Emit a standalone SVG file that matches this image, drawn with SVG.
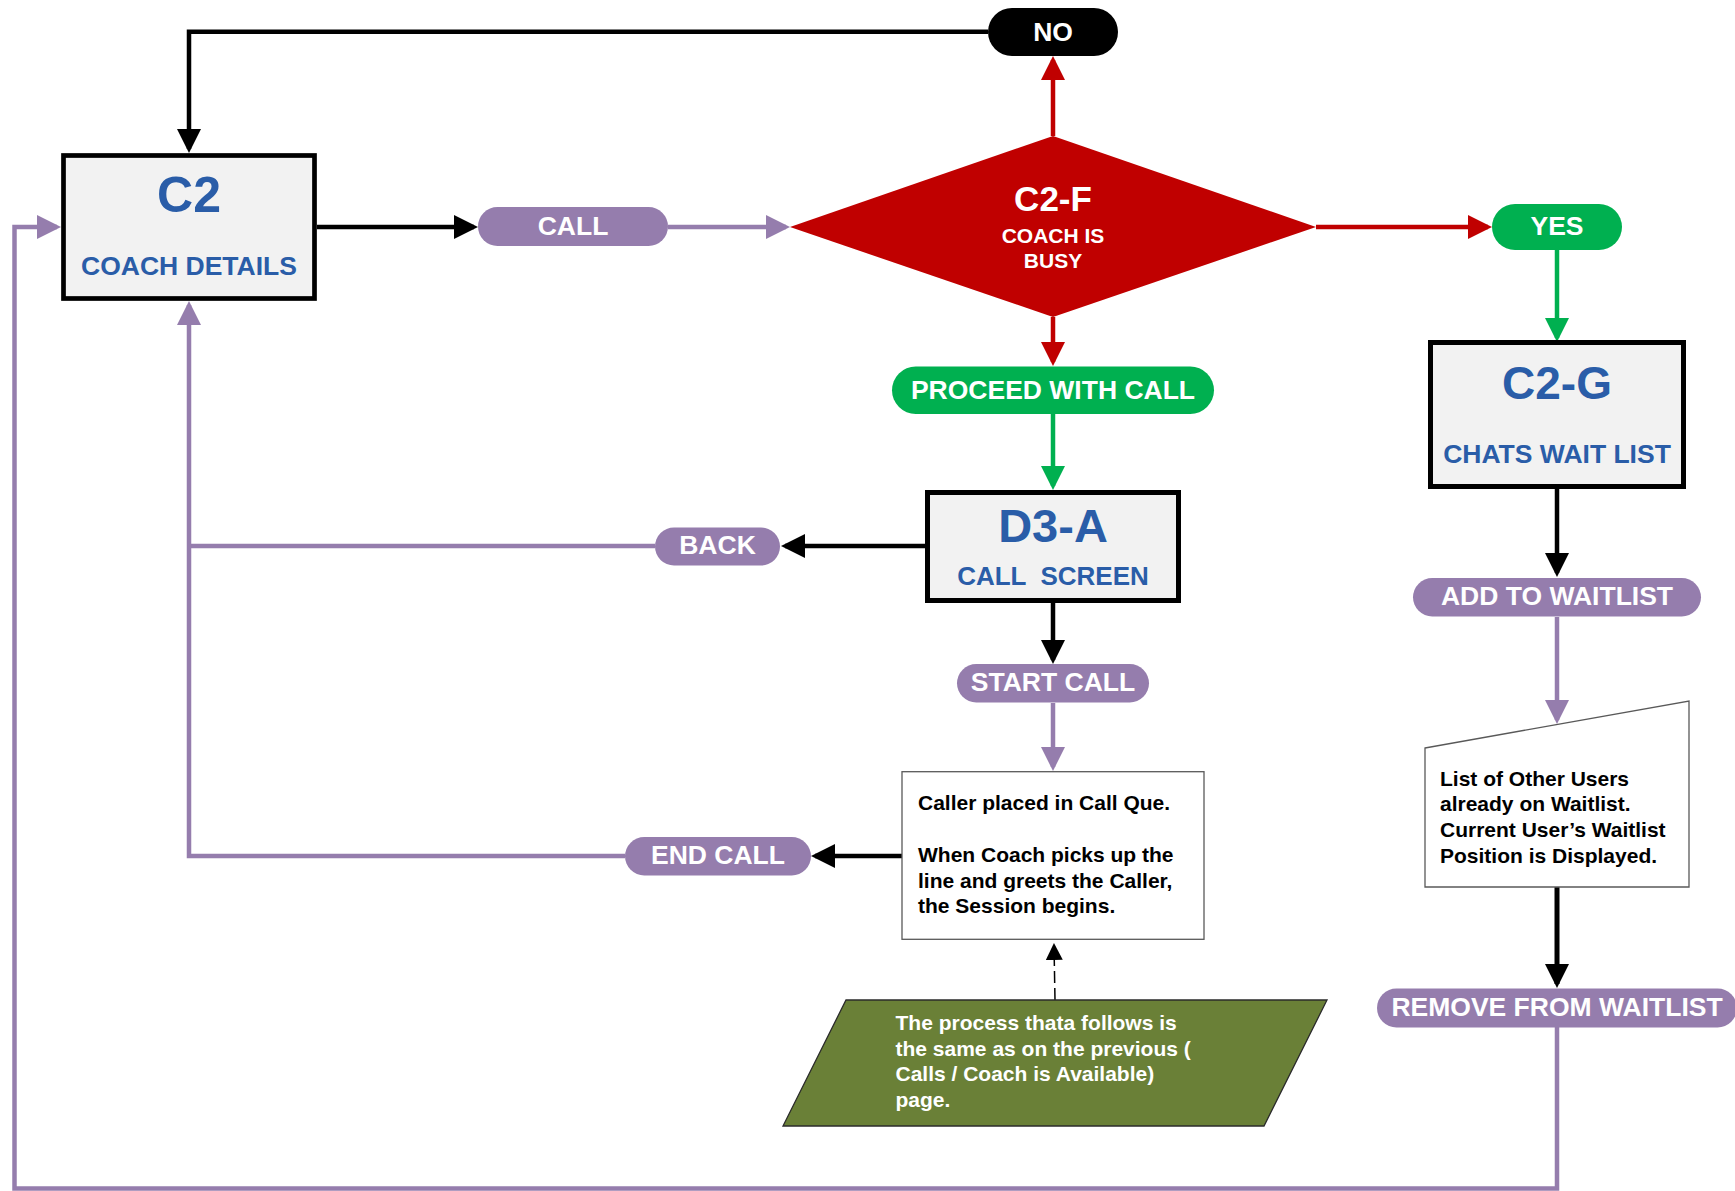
<svg xmlns="http://www.w3.org/2000/svg" width="1735" height="1191" viewBox="0 0 1735 1191">
<style>
text{font-family:"Liberation Sans",Arial,sans-serif;font-weight:bold}
.box{fill:#F2F2F2;stroke:#000;stroke-width:5}
.ttl{fill:#2A5DA8;text-anchor:middle}
.pill-p{fill:#957DAD}
.pill-g{fill:#00B050}
.pill-k{fill:#000}
.lbl{fill:#fff;font-size:26.5px;text-anchor:middle}
.note{fill:#fff;stroke:#595959;stroke-width:1.3}
.nt{fill:#000;font-size:21px}
.wt{fill:#fff;font-size:21px}
.c{fill:none;stroke-width:4.5}
.ck{stroke:#000}
.cp{stroke:#957DAD}
.cr{stroke:#C00000}
.cg{stroke:#00B050}
</style>
<defs>
<marker id="ak" markerUnits="userSpaceOnUse" markerWidth="24" markerHeight="24" refX="20" refY="12" orient="auto"><path d="M0,0 L24,12 L0,24 z" fill="#000"/></marker>
<marker id="ap" markerUnits="userSpaceOnUse" markerWidth="24" markerHeight="24" refX="20" refY="12" orient="auto"><path d="M0,0 L24,12 L0,24 z" fill="#957DAD"/></marker>
<marker id="ar" markerUnits="userSpaceOnUse" markerWidth="24" markerHeight="24" refX="20" refY="12" orient="auto"><path d="M0,0 L24,12 L0,24 z" fill="#C00000"/></marker>
<marker id="ag" markerUnits="userSpaceOnUse" markerWidth="24" markerHeight="24" refX="20" refY="12" orient="auto"><path d="M0,0 L24,12 L0,24 z" fill="#00B050"/></marker>
<marker id="ad" markerUnits="userSpaceOnUse" markerWidth="17" markerHeight="17" refX="15" refY="8.5" orient="auto"><path d="M0,0 L17,8.5 L0,17 z" fill="#000"/></marker>
</defs>
<rect width="1735" height="1191" fill="#fff"/>

<g id="connectors">
<path class="c ck" d="M988,31.7 H189 V149" marker-end="url(#ak)"/>
<path class="c ck" d="M317,227 H474" marker-end="url(#ak)"/>
<path class="c cp" d="M668,227 H786" marker-end="url(#ap)"/>
<path class="c cr" d="M1053,136 V60" marker-end="url(#ar)"/>
<path class="c cr" d="M1053,317 V362" marker-end="url(#ar)"/>
<path class="c cr" d="M1316,227 H1488" marker-end="url(#ar)"/>
<path class="c cg" d="M1557,250 V338" marker-end="url(#ag)"/>
<path class="c cg" d="M1053,414 V486" marker-end="url(#ag)"/>
<path class="c ck" d="M925,546 H785" marker-end="url(#ak)"/>
<path class="c cp" d="M655,546 H189"/>
<path class="c ck" d="M1053,603 V660" marker-end="url(#ak)"/>
<path class="c cp" d="M1053,703 V767" marker-end="url(#ap)"/>
<path class="c ck" d="M902,856 H815" marker-end="url(#ak)"/>
<path class="c cp" d="M625,856 H189 V305" marker-end="url(#ap)"/>
<path class="c ck" d="M1557,489 V573" marker-end="url(#ak)"/>
<path class="c cp" d="M1557,617 V720" marker-end="url(#ap)"/>
<path class="c ck" style="stroke-width:5" d="M1557,887 V984" marker-end="url(#ak)"/>
<path class="c cp" d="M1557,1027 V1188.5 H14.5 V227 H57" marker-end="url(#ap)"/>
<path fill="none" stroke="#000" stroke-width="1.5" stroke-dasharray="12,5" d="M1055,1000 L1054,945" marker-end="url(#ad)"/>
</g>

<g id="n-c2">
<rect class="box" x="63.5" y="155.5" width="251" height="143" style="stroke-width:4.7"/>
<text class="ttl" x="189" y="212" font-size="50">C2</text>
<text class="ttl" x="189" y="275" font-size="26.5">COACH DETAILS</text>
</g>

<g id="n-call">
<rect class="pill-p" x="478" y="207" width="190" height="39" rx="19.5"/>
<text class="lbl" x="573" y="234.5">CALL</text>
</g>

<g id="n-c2f">
<polygon points="1053,136 1316,227 1053,317 790,227" fill="#C00000"/>
<text x="1053" y="211" font-size="35" fill="#fff" text-anchor="middle">C2-F</text>
<text x="1053" y="243" font-size="21" fill="#fff" text-anchor="middle">COACH IS</text>
<text x="1053" y="267.5" font-size="21" fill="#fff" text-anchor="middle">BUSY</text>
</g>

<g id="n-no">
<rect class="pill-k" x="988" y="8" width="130" height="48" rx="24"/>
<text class="lbl" x="1053" y="40.5">NO</text>
</g>

<g id="n-yes">
<rect class="pill-g" x="1492" y="204" width="130" height="46" rx="23"/>
<text class="lbl" x="1557" y="234.5">YES</text>
</g>

<g id="n-proceed">
<rect class="pill-g" x="892" y="366.5" width="322" height="47.5" rx="23.75"/>
<text class="lbl" x="1053" y="398.5">PROCEED WITH CALL</text>
</g>

<g id="n-c2g">
<rect class="box" x="1430.5" y="342.5" width="253" height="144"/>
<text class="ttl" x="1557" y="399" font-size="46">C2-G</text>
<text class="ttl" x="1557" y="463" font-size="26.5">CHATS WAIT LIST</text>
</g>

<g id="n-d3a">
<rect class="box" x="927.5" y="492.5" width="251" height="108"/>
<text class="ttl" x="1053" y="542" font-size="47">D3-A</text>
<text class="ttl" x="1053" y="585" font-size="26" xml:space="preserve">CALL  SCREEN</text>
</g>

<g id="n-back">
<rect class="pill-p" x="655" y="527.5" width="125" height="38" rx="19"/>
<text class="lbl" x="717.5" y="553.5">BACK</text>
</g>

<g id="n-startcall">
<rect class="pill-p" x="957" y="664" width="192" height="38.5" rx="19.25"/>
<text class="lbl" x="1053" y="690.5">START CALL</text>
</g>

<g id="n-queue">
<rect class="note" x="902" y="771.7" width="302" height="167.6"/>
<text class="nt" x="918" y="810">Caller placed in Call Que.</text>
<text class="nt" x="918" y="862">When Coach picks up the</text>
<text class="nt" x="918" y="887.7">line and greets the Caller,</text>
<text class="nt" x="918" y="913.4">the Session begins.</text>
</g>

<g id="n-endcall">
<rect class="pill-p" x="625" y="837" width="186" height="38.5" rx="19.25"/>
<text class="lbl" x="718" y="863.5">END CALL</text>
</g>

<g id="n-process">
<polygon points="846,1000 1327,1000 1264,1126 783,1126" fill="#6A8037" stroke="#2b2b2b" stroke-width="1.3"/>
<text class="wt" x="895.5" y="1030">The process thata follows is</text>
<text class="wt" x="895.5" y="1055.7">the same as on the previous (</text>
<text class="wt" x="895.5" y="1081.3">Calls / Coach is Available)</text>
<text class="wt" x="895.5" y="1107">page.</text>
</g>

<g id="n-add">
<rect class="pill-p" x="1413" y="578" width="288" height="38.5" rx="19.25"/>
<text class="lbl" x="1557" y="604.5">ADD TO WAITLIST</text>
</g>

<g id="n-list">
<polygon class="note" points="1425,748 1689,701 1689,887 1425,887"/>
<text class="nt" x="1440" y="786">List of Other Users</text>
<text class="nt" x="1440" y="811">already on Waitlist.</text>
<text class="nt" x="1440" y="837">Current User’s Waitlist</text>
<text class="nt" x="1440" y="862.7">Position is Displayed.</text>
</g>

<g id="n-remove">
<rect class="pill-p" x="1377" y="988.5" width="360" height="39" rx="19.5"/>
<text class="lbl" x="1557" y="1016">REMOVE FROM WAITLIST</text>
</g>
</svg>
